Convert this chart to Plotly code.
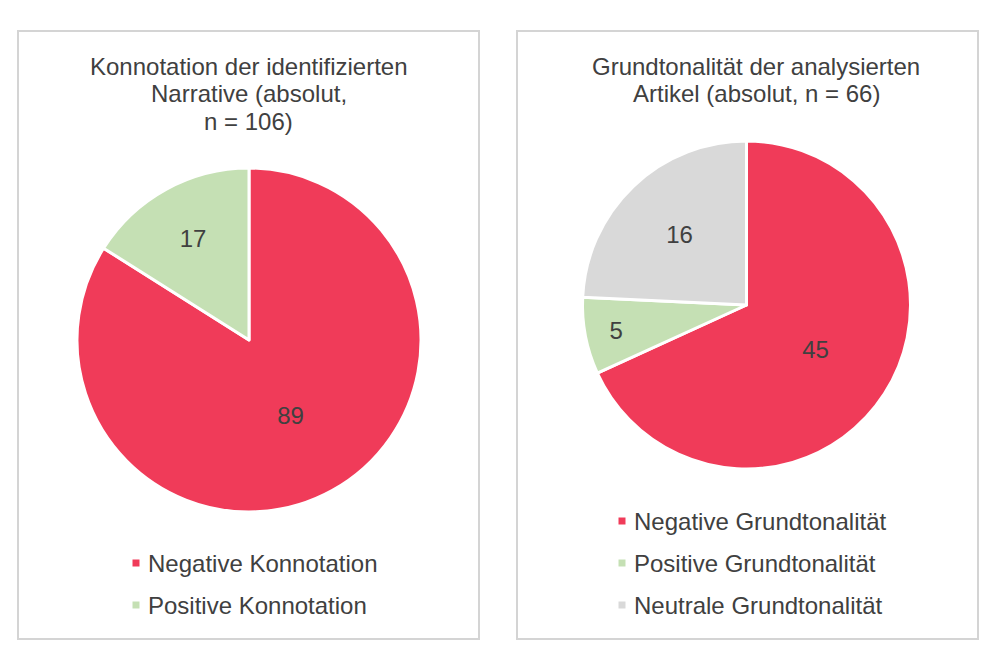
import plotly.graph_objects as go

# ---- data ----
left_title = ["Konnotation der identifizierten", "Narrative (absolut,", "n = 106)"]
left_labels = ["Negative Konnotation", "Positive Konnotation"]
left_values = [89, 17]

right_title = ["Grundtonalität der analysierten", "Artikel (absolut, n = 66)"]
right_labels = ["Negative Grundtonalität", "Positive Grundtonalität", "Neutrale Grundtonalität"]
right_values = [45, 5, 16]

colors = ["#F03B59", "#C5E0B4", "#D9D9D9"]

W, H = 1000, 667
FONT = "Liberation Sans, Arial, sans-serif"
TXT = "#404040"
FS = 24


def px(x):
    return x / W


def py(y):
    return 1 - y / H


fig = go.Figure()

fig.add_trace(go.Pie(
    labels=left_labels, values=left_values, sort=False, direction="clockwise", rotation=0,
    marker=dict(colors=colors[:2], line=dict(color="white", width=3)),
    textinfo="value", textposition="inside", insidetextorientation="horizontal",
    textfont=dict(family=FONT, size=FS, color=TXT),
    domain=dict(x=[px(77), px(421)], y=[py(512), py(168)]),
    showlegend=False, hoverinfo="label+value",
))

fig.add_trace(go.Pie(
    labels=right_labels, values=right_values, sort=False, direction="clockwise", rotation=0,
    marker=dict(colors=colors[:3], line=dict(color="white", width=3)),
    textinfo="value", textposition="inside", insidetextorientation="horizontal",
    textfont=dict(family=FONT, size=FS, color=TXT),
    domain=dict(x=[px(582), px(911)], y=[py(469), py(141)]),
    showlegend=False, hoverinfo="label+value",
))

shapes = []
annotations = []

# panel frames
for x0, x1 in [(18, 479), (517, 978)]:
    shapes.append(dict(type="rect", xref="paper", yref="paper",
                       x0=px(x0), x1=px(x1), y0=py(639), y1=py(31),
                       line=dict(color="#D4D4D4", width=2), fillcolor="rgba(0,0,0,0)"))

# titles
def add_title(lines, xc, y_first, step=27.5):
    for i, t in enumerate(lines):
        annotations.append(dict(text=t, xref="paper", yref="paper", x=px(xc), y=py(y_first + i * step),
                                xanchor="center", yanchor="middle", showarrow=False,
                                font=dict(family=FONT, size=FS, color=TXT)))

add_title(left_title, 248.5, 66)
add_title(right_title, 756, 66)

# legends
def add_legend(labels, cols, xm, xt, y_first, step=42):
    for i, (lab, c) in enumerate(zip(labels, cols)):
        yc = y_first + i * step
        shapes.append(dict(type="rect", xref="paper", yref="paper",
                           x0=px(xm - 3.5), x1=px(xm + 3.5), y0=py(yc + 3.5), y1=py(yc - 3.5),
                           line=dict(width=0), fillcolor=c))
        annotations.append(dict(text=lab, xref="paper", yref="paper", x=px(xt), y=py(yc),
                                xanchor="left", yanchor="middle", showarrow=False,
                                font=dict(family=FONT, size=FS, color=TXT)))

add_legend(left_labels, colors[:2], 136, 146, 563)
add_legend(right_labels, colors[:3], 622, 632, 521)

fig.update_layout(
    width=W, height=H, margin=dict(l=0, r=0, t=0, b=0),
    paper_bgcolor="white", plot_bgcolor="white",
    shapes=shapes, annotations=annotations,
)

fig.write_html("out.html", config={"displayModeBar": False},
               post_script="document.body.style.margin='0';")
